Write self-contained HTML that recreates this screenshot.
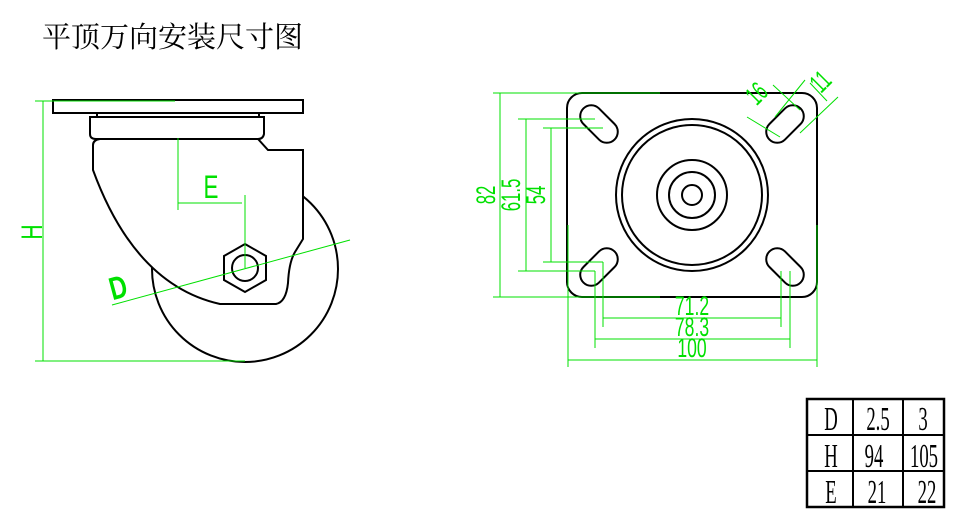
<!DOCTYPE html>
<html><head><meta charset="utf-8"><style>
body{margin:0;background:#fff}
svg{display:block}
.t{font-family:"Liberation Serif","Noto Serif CJK SC",serif}
.g{fill:#00e000;font-family:"Liberation Sans",sans-serif}
.k{fill:#000;font-family:"Liberation Serif",serif}
</style></head><body>
<svg width="964" height="515" viewBox="0 0 964 515" xmlns="http://www.w3.org/2000/svg">
<text x="42" y="47" class="t" font-size="29" fill="#000">平顶万向安装尺寸图</text>

<!-- LEFT VIEW -->
<g fill="none" stroke="#000" stroke-width="2">
<circle cx="245" cy="269" r="93"/>
<path d="M93,145 Q93,140 100,139 L258,139 L268,150 L303,150 L303,239 L295,252 Q289,262 288,283 Q286,302 276,304 L220,304 Q135,285 93,170 Z" fill="#fff"/>
<path d="M90,117 L264,117 L264,134 Q263,139 258,139 L96,139 Q90,139 90,134 Z" fill="#fff"/>
<rect x="53" y="100" width="250" height="13" fill="#fff"/>
<line x1="97" y1="113" x2="97" y2="117"/><line x1="259" y1="113" x2="259" y2="117"/>
<polygon points="245,244 266,256 266,280 245,292 224,280 224,256" fill="#fff"/>
<circle cx="245" cy="268" r="13"/>
</g>
<g stroke="#00e000" stroke-width="1" fill="none">
<line x1="35" y1="101" x2="175" y2="101"/>
<line x1="35" y1="361" x2="245" y2="361"/>
<line x1="43" y1="101" x2="43" y2="361"/>
<line x1="178" y1="138" x2="178" y2="210"/>
<line x1="178" y1="203" x2="242" y2="203"/>
<line x1="245" y1="195" x2="245" y2="268"/>
<line x1="112" y1="305" x2="350" y2="240"/>
</g>
<text class="g" font-size="30" transform="translate(42,232) rotate(-90) scale(0.7,1)" text-anchor="middle">H</text>
<text class="g" font-size="32" transform="translate(211,198) scale(0.7,1)" text-anchor="middle">E</text>
<text class="g" font-size="32" font-weight="bold" transform="translate(121,298) rotate(-15) scale(0.75,1)" text-anchor="middle">D</text>

<!-- RIGHT VIEW -->
<g fill="none" stroke="#000" stroke-width="2">
<rect x="567" y="93" width="250" height="204" rx="15"/>
<circle cx="692" cy="195" r="76"/>
<circle cx="692" cy="195" r="70"/>
<circle cx="692" cy="195" r="35"/>
<circle cx="692" cy="195" r="23"/>
<circle cx="692" cy="195" r="10"/>
<rect x="577" y="113" width="44" height="22" rx="11" transform="rotate(45 599 124)"/>
<rect x="577" y="256" width="44" height="22" rx="11" transform="rotate(-45 599 267)"/>
<rect x="763" y="256" width="44" height="22" rx="11" transform="rotate(45 785 267)"/>
<rect x="763" y="113" width="44" height="22" rx="11" transform="rotate(-45 785 124)"/>
</g>
<g stroke="#00e000" stroke-width="1" fill="none">
<line x1="493" y1="93" x2="660" y2="93"/>
<line x1="493" y1="297" x2="660" y2="297"/>
<line x1="500" y1="93" x2="500" y2="297"/>
<line x1="518" y1="119" x2="595" y2="119"/>
<line x1="518" y1="271" x2="595" y2="271"/>
<line x1="526" y1="119" x2="526" y2="271"/>
<line x1="543" y1="128" x2="603" y2="128"/>
<line x1="543" y1="262" x2="603" y2="262"/>
<line x1="551" y1="128" x2="551" y2="262"/>
<line x1="603" y1="262" x2="603" y2="327"/>
<line x1="595" y1="271" x2="595" y2="348"/>
<line x1="781" y1="271" x2="781" y2="327"/>
<line x1="790" y1="271" x2="790" y2="348"/>
<line x1="568" y1="225" x2="568" y2="367"/>
<line x1="817" y1="225" x2="817" y2="367"/>
<line x1="603" y1="318" x2="781" y2="318"/>
<line x1="595" y1="339" x2="790" y2="339"/>
<line x1="568" y1="360" x2="817" y2="360"/>
<line x1="747" y1="117" x2="780" y2="137"/>
<line x1="773" y1="85" x2="800" y2="110"/>
<line x1="805" y1="80" x2="775" y2="117"/>
<line x1="838" y1="97" x2="800" y2="133"/>
<line x1="810" y1="83" x2="827" y2="101"/>
</g>
<g class="g" font-size="27">
<text transform="translate(495,195) rotate(-90) scale(0.62,1)" text-anchor="middle">82</text>
<text transform="translate(520,195) rotate(-90) scale(0.62,1)" text-anchor="middle">61.5</text>
<text transform="translate(545,195) rotate(-90) scale(0.62,1)" text-anchor="middle">54</text>
<text transform="translate(692,315) scale(0.65,1)" text-anchor="middle">71.2</text>
<text transform="translate(692,336) scale(0.65,1)" text-anchor="middle">78.3</text>
<text transform="translate(692,357) scale(0.65,1)" text-anchor="middle">100</text>
<text transform="translate(763,100) rotate(-45) scale(0.6,1)" text-anchor="middle">16</text>
<text transform="translate(827,88) rotate(-45) scale(0.6,1)" text-anchor="middle">11</text>
</g>

<!-- TABLE -->
<g fill="none" stroke="#000">
<rect x="807" y="399" width="137" height="108" stroke-width="2.5"/>
<line x1="853" y1="399" x2="853" y2="507" stroke-width="2"/>
<line x1="903" y1="399" x2="903" y2="507" stroke-width="2"/>
<line x1="807" y1="435" x2="944" y2="435" stroke-width="2"/>
<line x1="807" y1="471" x2="944" y2="471" stroke-width="2"/>
</g>
<g class="k" font-size="34" text-anchor="middle">
<text transform="translate(831,430) scale(0.55,1)">D</text>
<text transform="translate(878,430) scale(0.55,1)">2.5</text>
<text transform="translate(923,430) scale(0.55,1)">3</text>
<text transform="translate(831,467) scale(0.55,1)">H</text>
<text transform="translate(874,467) scale(0.55,1)">94</text>
<text transform="translate(924,467) scale(0.55,1)">105</text>
<text transform="translate(831,503) scale(0.55,1)">E</text>
<text transform="translate(877,503) scale(0.55,1)">21</text>
<text transform="translate(927,503) scale(0.55,1)">22</text>
</g>
</svg>
</body></html>
